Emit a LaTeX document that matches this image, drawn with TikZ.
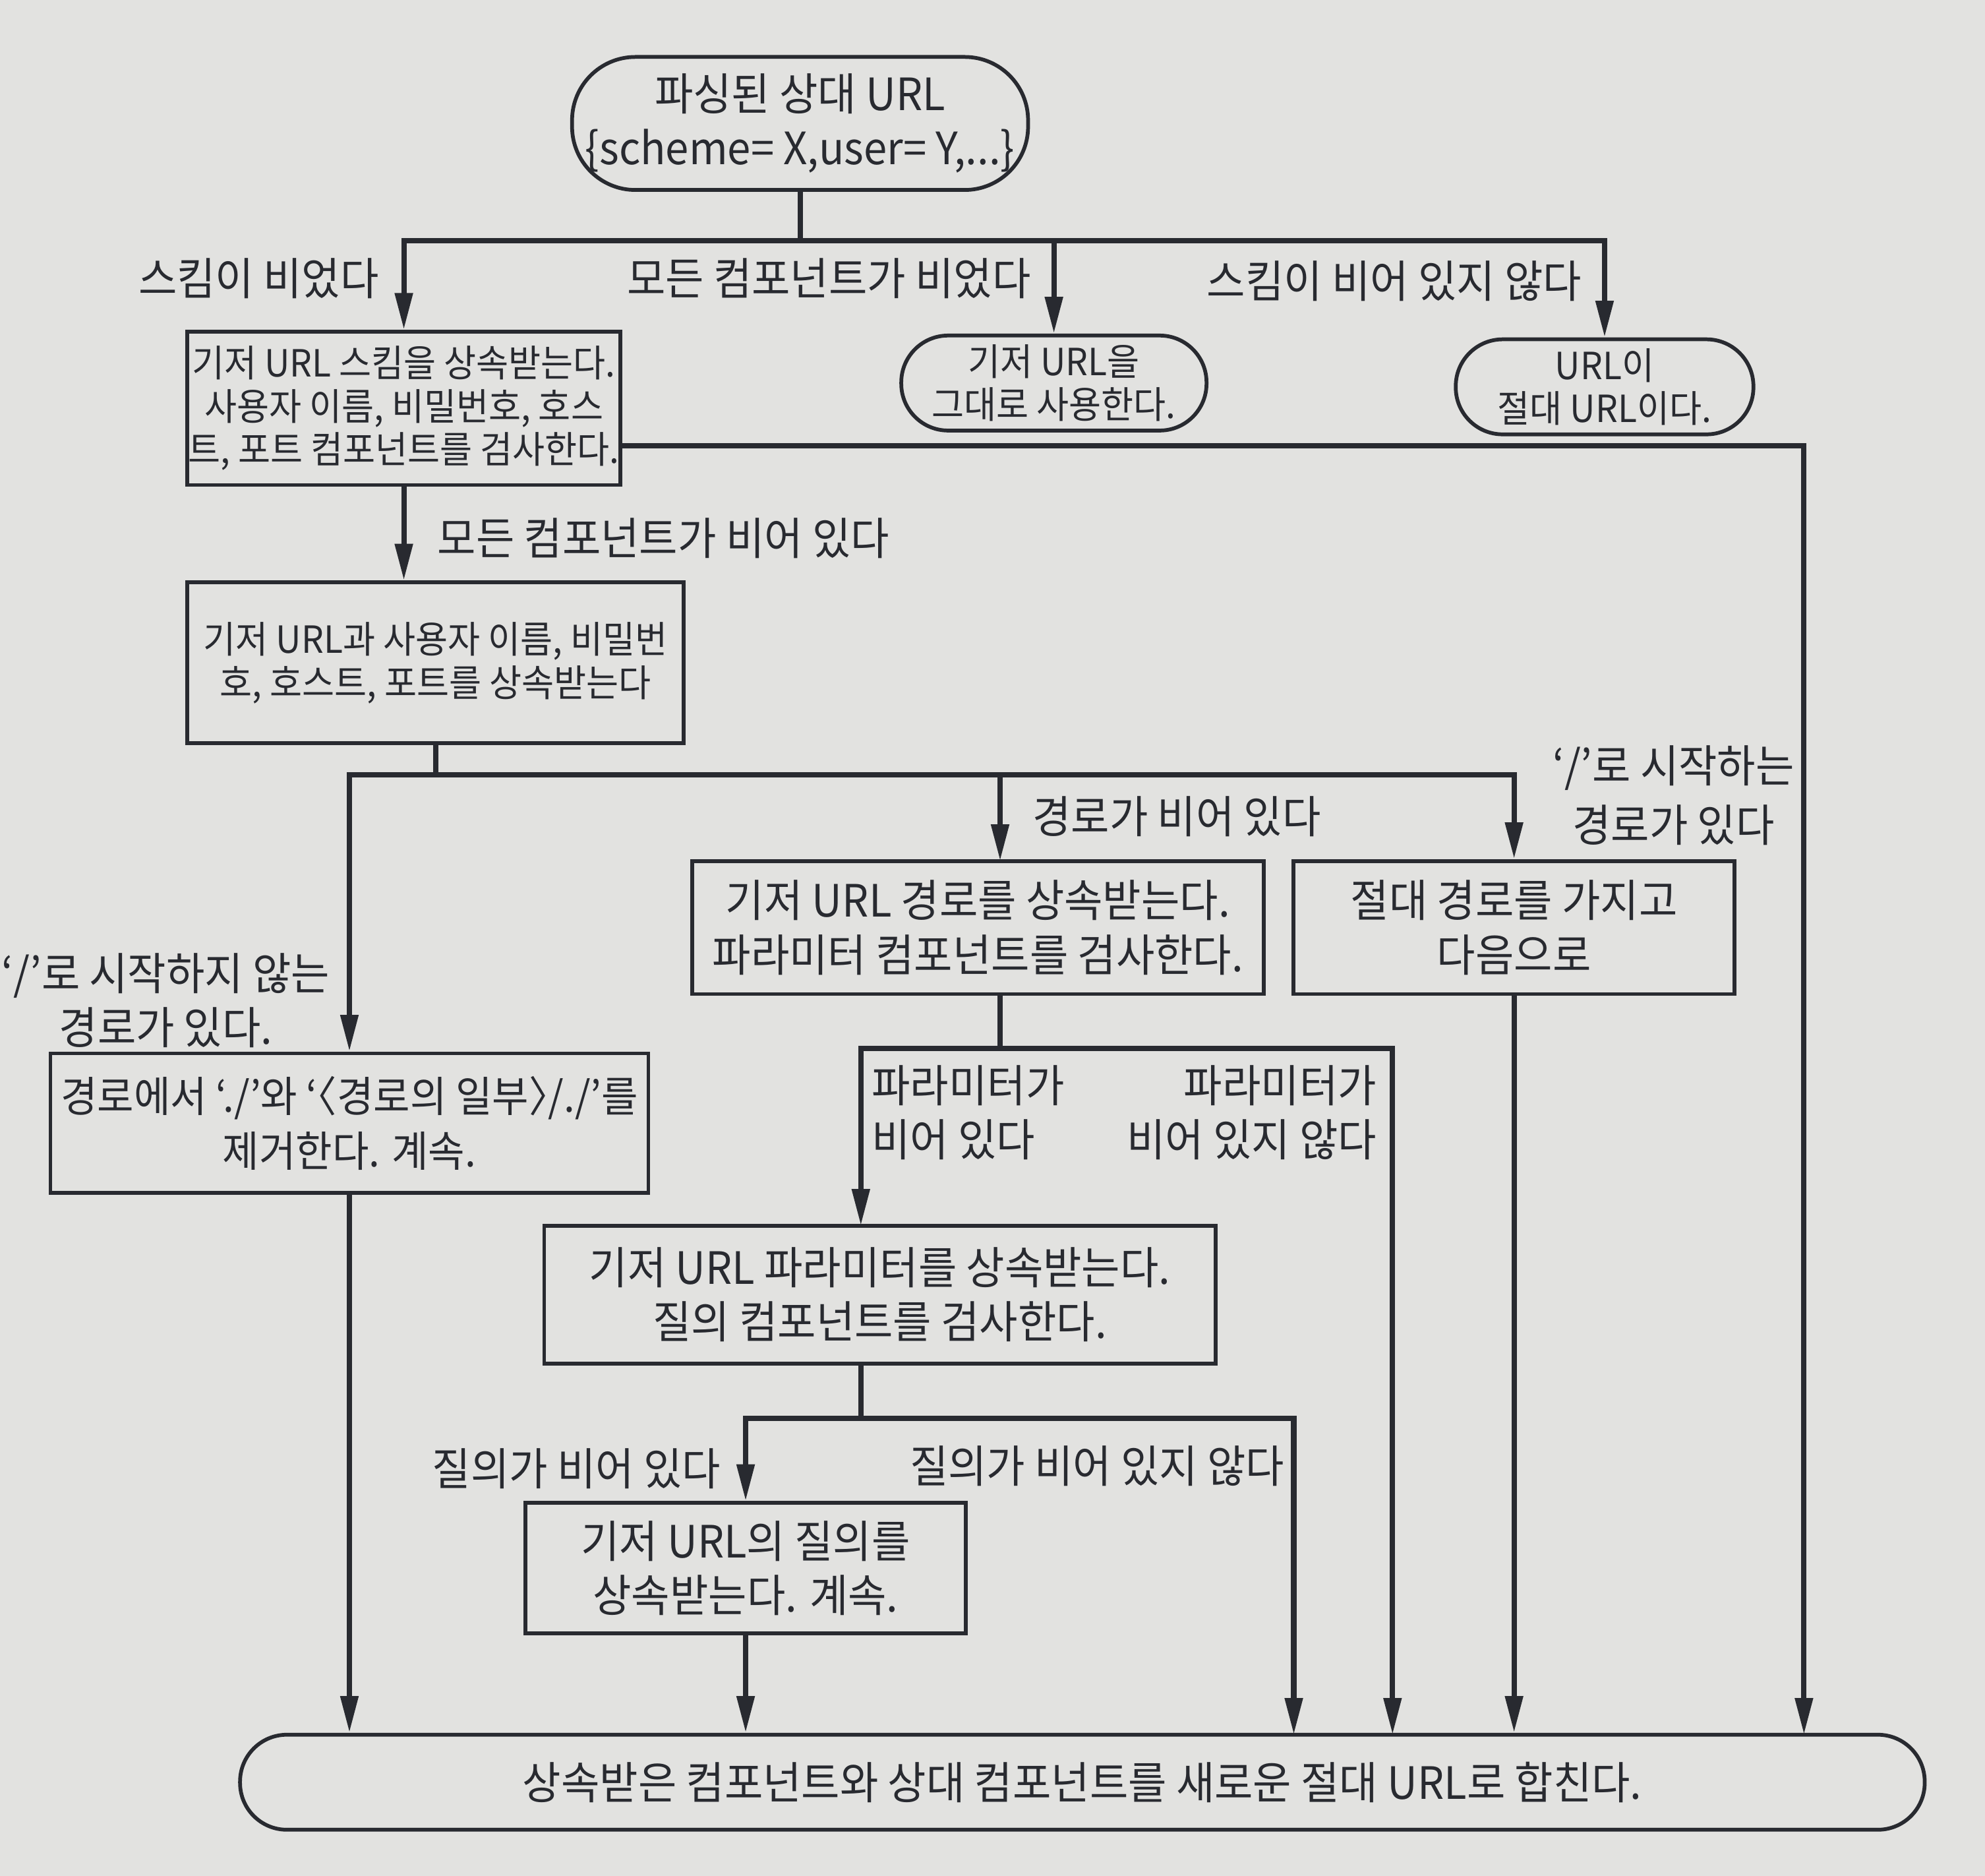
\documentclass[tikz,border=0pt]{standalone}
\usepackage{fontspec}
\setmainfont{Noto Sans CJK KR}[FakeStretch=0.94]
\usetikzlibrary{arrows.meta,calc}
\definecolor{ink}{RGB}{40,42,48}
\definecolor{paper}{RGB}{226,226,224}
\newcommand\mainsz{\fontsize{10pt}{12.2pt}\selectfont}
\newcommand\smsz{\fontsize{8.4pt}{9.7pt}\selectfont}
\newcommand\lbr{\kern-0.48em〈}
\newcommand\rbr{〉\kern-0.48em}
\begin{document}
\begin{tikzpicture}[x=0.01cm,y=-0.01cm,
  box/.style={draw=ink, line width=0.85pt, inner sep=0pt, align=center, font=\mainsz, text=ink},
  term/.style={box},
  lab/.style={font=\mainsz, text=ink, inner sep=0pt, align=center},
  ln/.style={draw=ink, line width=1.2pt},
  arr/.style={ln, -{Triangle[length=2.9mm, width=1.35mm]}}]
\fill[paper] (0,0) rectangle (1568,1481.5);
\useasboundingbox (0,0) rectangle (1568,1481.5);

% nodes
\node[term, minimum width=3.6cm, minimum height=1.05cm, rounded corners=0.5cm] (top) at (632,97.5)
  {파싱된 상대 URL\\\{scheme= X,user= Y,...\}};
\node[box, font=\smsz, minimum width=3.42cm, minimum height=1.21cm] (b1) at (319,322.5)
  {기저 URL 스킴을 상속받는다.\\사용자 이름, 비밀번호, 호스\\트, 포트 컴포넌트를 검사한다.};
\node[term, font=\smsz, minimum width=2.41cm, minimum height=0.75cm, rounded corners=0.37cm] (n2) at (832.5,302.5)
  {기저 URL을\\그대로 사용한다.};
\node[term, font=\smsz, minimum width=2.35cm, minimum height=0.75cm, rounded corners=0.37cm] (n3) at (1267.5,305.5)
  {URL이\\절대 URL이다.};
\node[box, font=\smsz, minimum width=3.92cm, minimum height=1.27cm] (b2) at (344,523.5)
  {기저 URL과 사용자 이름, 비밀번\\호, 호스트, 포트를 상속받는다};
\node[box, minimum width=4.51cm, minimum height=1.05cm] (b4) at (772.5,732.5)
  {기저 URL 경로를 상속받는다.\\파라미터 컴포넌트를 검사한다.};
\node[box, minimum width=3.48cm, minimum height=1.05cm] (b5) at (1196,732.5)
  {절대 경로를 가지고\\다음으로};
\node[box, font=\fontsize{9.5pt}{12.4pt}\selectfont, minimum width=4.72cm, minimum height=1.10cm] (b3) at (276,887)
  {경로에서 ‘./’와 ‘\lbr 경로의 일부\rbr/./’를\\제거한다. 계속.};
\node[box, minimum width=5.30cm, minimum height=1.09cm] (b6) at (695,1022.5)
  {기저 URL 파라미터를 상속받는다.\\질의 컴포넌트를 검사한다.};
\node[box, minimum width=3.48cm, minimum height=1.03cm] (b7) at (589,1238.5)
  {기저 URL의 질의를\\상속받는다. 계속.};
\node[term, minimum width=13.3cm, minimum height=0.75cm, rounded corners=0.37cm] (bot) at (855,1407.5)
  {상속받은 컴포넌트와 상대 컴포넌트를 새로운 절대 URL로 합친다.};

% labels
\node[lab, anchor=east] (l1) at (300,220) {스킴이 비었다};
\node[lab, anchor=east] (l2) at (815,220) {모든 컴포넌트가 비었다};
\node[lab, anchor=east] (l3) at (1250,222) {스킴이 비어 있지 않다};
\node[lab, anchor=west] (l4) at (345,425) {모든 컴포넌트가 비어 있다};
\node[lab, anchor=west] (l5) at (815,645) {경로가 비어 있다};
\node[lab, font=\fontsize{10pt}{13.3pt}\selectfont] (l6) at (1322,628) {‘/’로 시작하는\\경로가 있다};
\node[lab] (l7) at (131,790) {‘/’로 시작하지 않는\\경로가 있다.};
\node[lab, align=left, anchor=west] (l8) at (688,878.5) {파라미터가\\비어 있다};
\node[lab, align=right, anchor=east] (l9) at (1088,878.5) {파라미터가\\비어 있지 않다};
\node[lab, anchor=east] (l10) at (570,1160) {질의가 비어 있다};
\node[lab, anchor=west] (l11) at (718,1158) {질의가 비어 있지 않다};

% coordinates
\coordinate (j1) at (632,190);
\coordinate (b1r) at (490,352);
\coordinate (in6) at (1425,1370);
\coordinate (j2) at (344,612);
\coordinate (b4in) at (790,680);
\coordinate (b4out) at (790,785);
\coordinate (j3) at (790,828);
\coordinate (b6in) at (680,968);
\coordinate (in4) at (1100,1370);
\coordinate (b6out) at (680,1077);
\coordinate (j4) at (680,1120);
\coordinate (in3) at (1022,1370);

% connectors
\draw[ln] (top.south) -- (j1);
\draw[arr] (j1) -| (b1.north);
\draw[arr] (j1) -| (n2.north);
\draw[arr] (j1) -| (n3.north);
\draw[arr] (b1r) -| (in6);
\draw[arr] (b1.south) -- (b1.south |- b2.north);
\draw[ln] (b2.south) -- (j2);
\draw[arr] (j2) -| (b3.north);
\draw[arr] (j2) -| (b4in);
\draw[arr] (j2) -| (b5.north);
\draw[arr] (b3.south) -- (b3.south |- bot.north);
\draw[arr] (b5.south) -- (b5.south |- bot.north);
\draw[ln] (b4out) -- (j3);
\draw[arr] (j3) -| (b6in);
\draw[arr] (j3) -| (in4);
\draw[ln] (b6out) -- (j4);
\draw[arr] (j4) -| (b7.north);
\draw[arr] (j4) -| (in3);
\draw[arr] (b7.south) -- (b7.south |- bot.north);
\end{tikzpicture}
\end{document}
